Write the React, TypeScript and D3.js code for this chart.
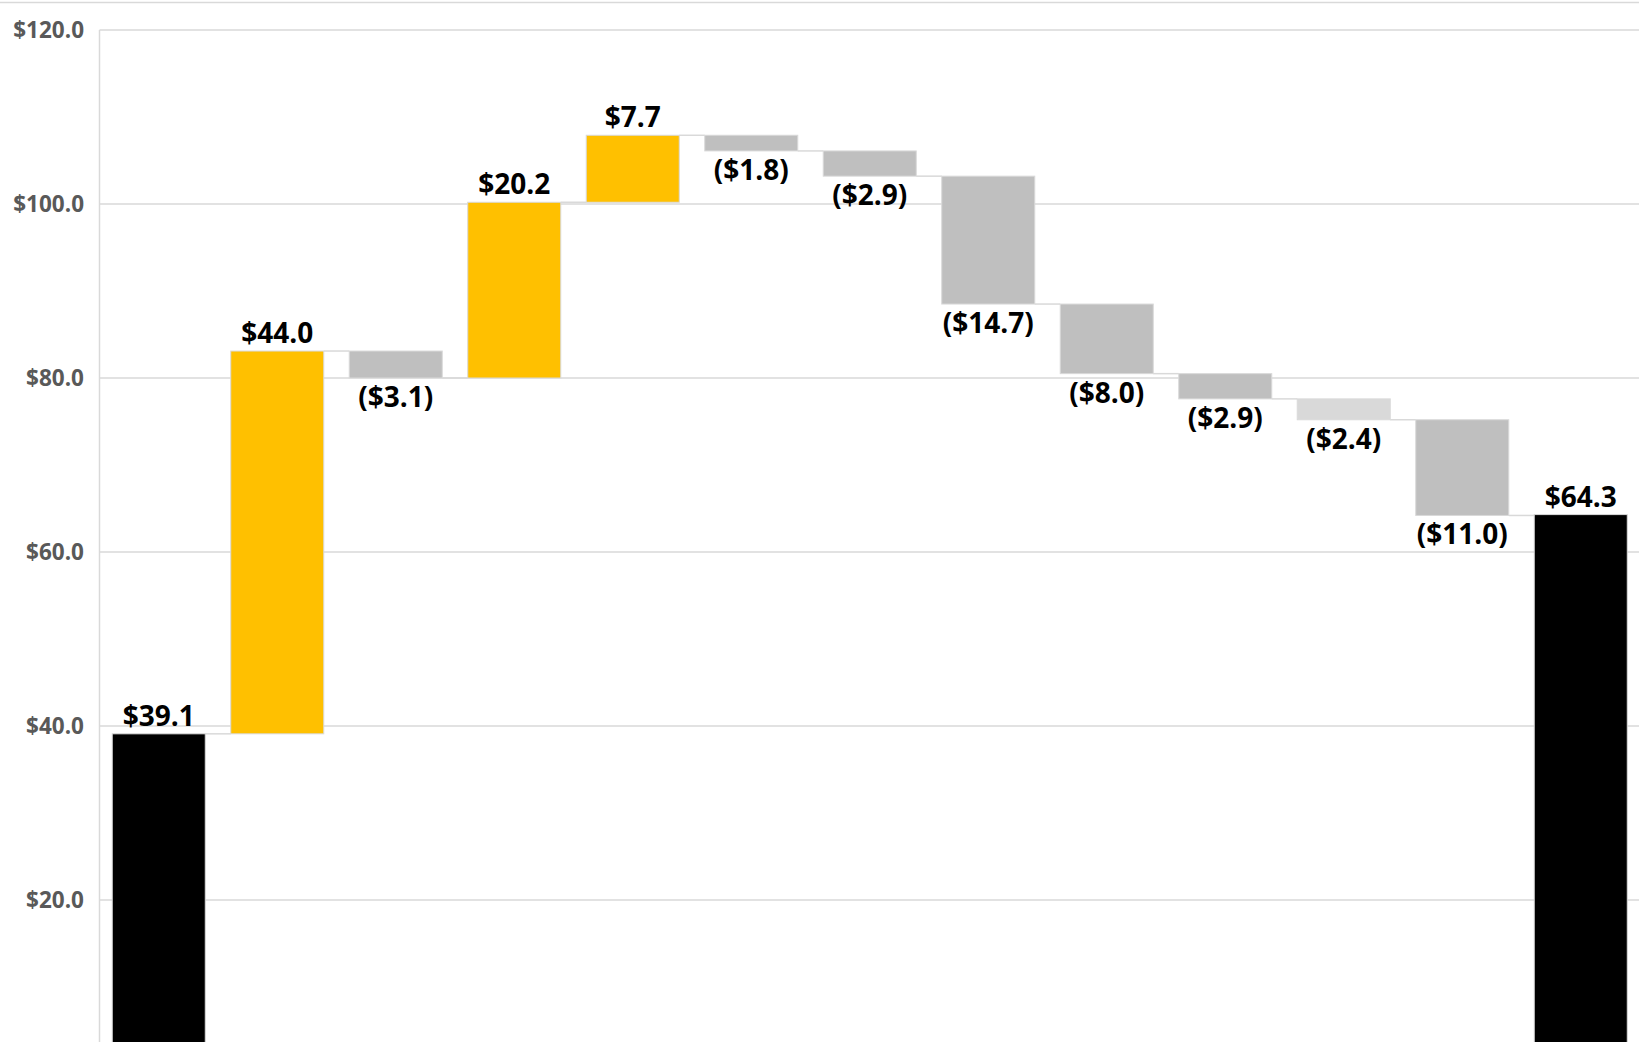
import React from "react";
import * as d3 from "d3";

const categories = ["Start", "S1", "S2", "S3", "S4", "S5", "S6", "S7", "S8", "S9", "S10", "S11", "End"];
const deltas = [39.1, 44.0, -3.1, 20.2, 7.7, -1.8, -2.9, -14.7, -8.0, -2.9, -2.4, -11.0, 64.3];
const kinds = ["total", "increase", "decrease", "increase", "increase", "decrease", "decrease", "decrease", "decrease", "decrease", "decreaseLight", "decrease", "total"];
const yTicks = [20, 40, 60, 80, 100, 120];

const W = 1639;
const H = 1042;

const colorByKind: Record<string, string> = {
  total: "#000000",
  increase: "#FFC000",
  decrease: "#BFBFBF",
  decreaseLight: "#D9D9D9",
};

const fmt = (v: number) => {
  const s = "$" + Math.abs(v).toFixed(1);
  return v < 0 ? "(" + s + ")" : s;
};

export default function App() {
  const x = d3
    .scaleBand<string>()
    .domain(categories)
    .range([99.5, 1640])
    .paddingInner(0.215)
    .paddingOuter(0.1075);
  const y = d3.scaleLinear().domain([0, 120]).range([1074, 30]);

  let running = 0;
  const bars = categories.map((c, i) => {
    const d = deltas[i];
    let lo: number, hi: number, end: number;
    if (kinds[i] === "total") {
      lo = 0;
      hi = d;
      end = d;
    } else {
      const start = running;
      end = running + d;
      lo = Math.min(start, end);
      hi = Math.max(start, end);
    }
    running = end;
    return { c, d, lo, hi, end, kind: kinds[i] };
  });

  const font = "'Open Sans', 'Noto Sans', sans-serif";

  return (
    <svg
      width={W}
      height={H}
      style={{ position: "absolute", left: 0, top: 0, background: "#fff" }}
    >
      <rect x={0} y={0} width={W} height={H} fill="#fff" />
      <line x1={0} x2={W} y1={2.5} y2={2.5} stroke="#d9d9d9" strokeWidth={1.5} />
      {yTicks.map((t) => (
        <g key={t}>
          <line x1={99.5} x2={W} y1={y(t)} y2={y(t)} stroke="#d9d9d9" strokeWidth={1.5} />
          <text
            x={84}
            y={y(t)}
            dy="0.36em"
            textAnchor="end"
            fontFamily={font}
            fontWeight={700}
            fontSize={22.5}
            fill="#595959"
          >
            {"$" + t.toFixed(1)}
          </text>
        </g>
      ))}
      <line x1={99.5} x2={99.5} y1={30} y2={H} stroke="#d9d9d9" strokeWidth={1.5} />
      {bars.slice(0, -1).map((b, i) => {
        const nx = x(categories[i + 1])!;
        return (
          <line
            key={"c" + i}
            x1={x(b.c)! + x.bandwidth()}
            x2={nx}
            y1={y(b.end)}
            y2={y(b.end)}
            stroke="#d9d9d9"
            strokeWidth={1.5}
          />
        );
      })}
      {bars.map((b) => (
        <rect
          key={b.c}
          x={x(b.c)}
          y={y(b.hi)}
          width={x.bandwidth()}
          height={y(b.lo) - y(b.hi)}
          fill={colorByKind[b.kind]}
          stroke="#d9d9d9"
          strokeWidth={1}
        />
      ))}
      {bars.map((b) => {
        const cx = x(b.c)! + x.bandwidth() / 2;
        const neg = b.d < 0;
        const ty = neg ? y(b.lo) + 29 : y(b.hi) - 8;
        return (
          <text
            key={"l" + b.c}
            x={cx}
            y={ty}
            textAnchor="middle"
            fontFamily={font}
            fontWeight={700}
            fontSize={28}
            fill="#000"
          >
            {fmt(b.d)}
          </text>
        );
      })}
    </svg>
  );
}
